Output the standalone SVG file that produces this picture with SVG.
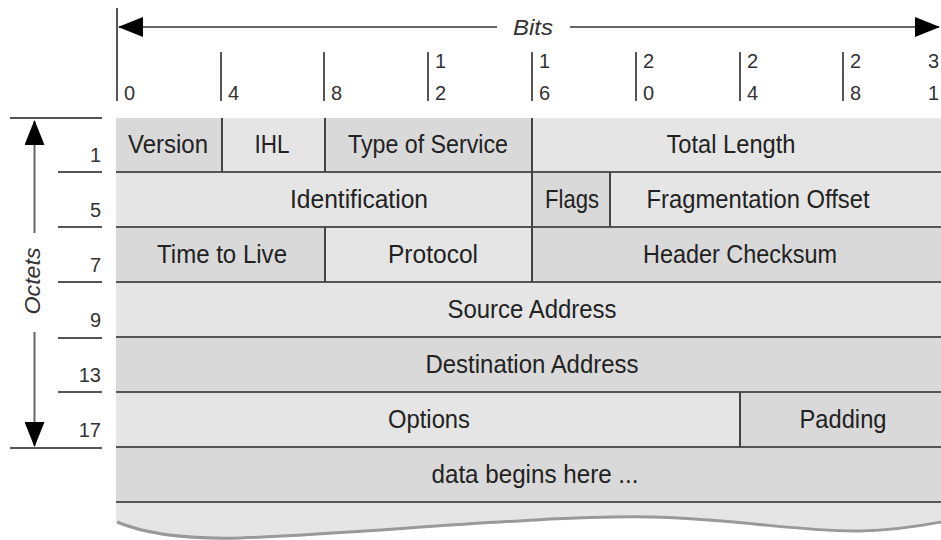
<svg xmlns="http://www.w3.org/2000/svg" width="941" height="540" viewBox="0 0 941 540">
<defs>
<style>
.lbl{font-family:"Liberation Sans",Arial,sans-serif;font-size:25px;fill:#222;text-anchor:middle}
.num{font-family:"Liberation Sans",Arial,sans-serif;font-size:20px;fill:#333}
.rn{font-family:"Liberation Sans",Arial,sans-serif;font-size:20px;fill:#333;text-anchor:end}
.ax{font-family:"Liberation Sans",Arial,sans-serif;font-size:22px;font-style:italic;fill:#333;text-anchor:middle}
.dk{fill:#d9d9d9}
.lt{fill:#e5e5e5}
.hl{stroke:#555;stroke-width:2}
.vl{stroke:#444;stroke-width:2}
.tk{stroke:#555;stroke-width:2}
.axl{stroke:#666;stroke-width:2;fill:none}
</style>
<marker id="ah" markerUnits="userSpaceOnUse" markerWidth="25" markerHeight="20" refX="24" refY="10" orient="auto">
<path d="M0,0 L25,10 L0,20 z" fill="#000"/>
</marker>
</defs>
<rect width="941" height="540" fill="#fff"/>

<!-- Bit scale -->
<g id="bit-scale">
<line class="tk" x1="117" y1="8" x2="117" y2="101"/>
<line class="tk" x1="221" y1="52" x2="221" y2="101"/>
<line class="tk" x1="324" y1="52" x2="324" y2="101"/>
<line class="tk" x1="428" y1="52" x2="428" y2="101"/>
<line class="tk" x1="532" y1="52" x2="532" y2="101"/>
<line class="tk" x1="636" y1="52" x2="636" y2="101"/>
<line class="tk" x1="740" y1="52" x2="740" y2="101"/>
<line class="tk" x1="843" y1="52" x2="843" y2="101"/>
<text class="num" x="124" y="100">0</text>
<text class="num" x="228" y="100">4</text>
<text class="num" x="331" y="100">8</text>
<text class="num" x="435" y="68">1</text><text class="num" x="435" y="100">2</text>
<text class="num" x="539" y="68">1</text><text class="num" x="539" y="100">6</text>
<text class="num" x="643" y="68">2</text><text class="num" x="643" y="100">0</text>
<text class="num" x="747" y="68">2</text><text class="num" x="747" y="100">4</text>
<text class="num" x="850" y="68">2</text><text class="num" x="850" y="100">8</text>
<text class="num" x="928" y="68">3</text><text class="num" x="928" y="100">1</text>
<text class="ax" x="533" y="35" textLength="40" lengthAdjust="spacingAndGlyphs">Bits</text>
</g>

<!-- Octet scale -->
<g id="octet-scale">
<line class="hl" x1="10" y1="118" x2="102" y2="118"/>
<line class="hl" x1="10" y1="448" x2="102" y2="448"/>
<line class="hl" x1="58" y1="172" x2="102" y2="172"/>
<line class="hl" x1="58" y1="227" x2="102" y2="227"/>
<line class="hl" x1="58" y1="282" x2="102" y2="282"/>
<line class="hl" x1="58" y1="338" x2="102" y2="338"/>
<line class="hl" x1="58" y1="392" x2="102" y2="392"/>
<text class="rn" x="101" y="162">1</text>
<text class="rn" x="101" y="217">5</text>
<text class="rn" x="101" y="272">7</text>
<text class="rn" x="101" y="327">9</text>
<text class="rn" x="101" y="382">13</text>
<text class="rn" x="101" y="437">17</text>
<text class="ax" transform="translate(40,281) rotate(-90)" x="0" y="0" textLength="67" lengthAdjust="spacingAndGlyphs">Octets</text>
</g>

<!-- Header cells -->
<g id="row1">
<g id="version"><rect class="dk" x="116" y="118" width="106" height="54"/><text class="lbl" x="168" y="153" textLength="80" lengthAdjust="spacingAndGlyphs">Version</text></g>
<g id="ihl"><rect class="lt" x="222" y="118" width="103" height="54"/><text class="lbl" x="272" y="153" textLength="35" lengthAdjust="spacingAndGlyphs">IHL</text></g>
<g id="tos"><rect class="dk" x="325" y="118" width="207" height="54"/><text class="lbl" x="428" y="153" textLength="160" lengthAdjust="spacingAndGlyphs">Type of Service</text></g>
<g id="total-length"><rect class="lt" x="532" y="118" width="409" height="54"/><text class="lbl" x="731" y="153" textLength="129" lengthAdjust="spacingAndGlyphs">Total Length</text></g>
</g>
<g id="row2">
<g id="identification"><rect class="lt" x="116" y="172" width="416" height="55"/><text class="lbl" x="359" y="208" textLength="138" lengthAdjust="spacingAndGlyphs">Identification</text></g>
<g id="flags"><rect class="dk" x="532" y="172" width="78" height="55"/><text class="lbl" x="572" y="208" textLength="54" lengthAdjust="spacingAndGlyphs">Flags</text></g>
<g id="frag-offset"><rect class="lt" x="610" y="172" width="331" height="55"/><text class="lbl" x="758" y="208" textLength="223" lengthAdjust="spacingAndGlyphs">Fragmentation Offset</text></g>
</g>
<g id="row3">
<g id="ttl"><rect class="dk" x="116" y="227" width="209" height="55"/><text class="lbl" x="222" y="263" textLength="130" lengthAdjust="spacingAndGlyphs">Time to Live</text></g>
<g id="protocol"><rect class="lt" x="325" y="227" width="207" height="55"/><text class="lbl" x="433" y="263" textLength="90" lengthAdjust="spacingAndGlyphs">Protocol</text></g>
<g id="checksum"><rect class="dk" x="532" y="227" width="409" height="55"/><text class="lbl" x="740" y="263" textLength="194" lengthAdjust="spacingAndGlyphs">Header Checksum</text></g>
</g>
<g id="source-address"><rect class="lt" x="116" y="282" width="825" height="55"/><text class="lbl" x="532" y="318" textLength="169" lengthAdjust="spacingAndGlyphs">Source Address</text></g>
<g id="destination-address"><rect class="dk" x="116" y="337" width="825" height="55"/><text class="lbl" x="532" y="373" textLength="213" lengthAdjust="spacingAndGlyphs">Destination Address</text></g>
<g id="row6">
<g id="options"><rect class="lt" x="116" y="392" width="624" height="55"/><text class="lbl" x="429" y="428" textLength="82" lengthAdjust="spacingAndGlyphs">Options</text></g>
<g id="padding"><rect class="dk" x="740" y="392" width="201" height="55"/><text class="lbl" x="843" y="428" textLength="87" lengthAdjust="spacingAndGlyphs">Padding</text></g>
</g>
<g id="data"><rect class="dk" x="116" y="447" width="825" height="55"/><text class="lbl" x="535" y="483" textLength="207" lengthAdjust="spacingAndGlyphs">data begins here ...</text></g>
<g id="torn-edge">
<path d="M116,502 L941,502 L941,522 C925,525 900,530 860,531 C800,532 740,519 650,517 C540,515 360,534 240,538 Q160,540 116,521 Z" class="lt"/>
<path d="M117,522 Q160,540 240,538 C360,534 540,515 650,517 C740,519 800,532 860,531 C900,530 925,525 941,522" fill="none" stroke="#999" stroke-width="3"/>
</g>

<!-- Table rules and connectors -->
<g id="connectors">
<line class="hl" x1="116" y1="172" x2="941" y2="172"/>
<line class="hl" x1="116" y1="227" x2="941" y2="227"/>
<line class="hl" x1="116" y1="282" x2="941" y2="282"/>
<line class="hl" x1="116" y1="337" x2="941" y2="337"/>
<line class="hl" x1="116" y1="392" x2="941" y2="392"/>
<line class="hl" x1="116" y1="447" x2="941" y2="447"/>
<line class="hl" x1="116" y1="502" x2="941" y2="502"/>
<line class="vl" x1="222" y1="118" x2="222" y2="172"/>
<line class="vl" x1="325" y1="118" x2="325" y2="172"/>
<line class="vl" x1="532" y1="118" x2="532" y2="172"/>
<line class="vl" x1="532" y1="172" x2="532" y2="227"/>
<line class="vl" x1="610" y1="172" x2="610" y2="227"/>
<line class="vl" x1="325" y1="227" x2="325" y2="282"/>
<line class="vl" x1="532" y1="227" x2="532" y2="282"/>
<line class="vl" x1="740" y1="392" x2="740" y2="447"/>
<line class="axl" x1="497" y1="27" x2="119" y2="27" marker-end="url(#ah)"/>
<line class="axl" x1="570" y1="27" x2="939" y2="27" marker-end="url(#ah)"/>
<line class="axl" x1="34.5" y1="233" x2="34.5" y2="121" marker-end="url(#ah)"/>
<line class="axl" x1="34.5" y1="332" x2="34.5" y2="446" marker-end="url(#ah)"/>
</g>
</svg>
